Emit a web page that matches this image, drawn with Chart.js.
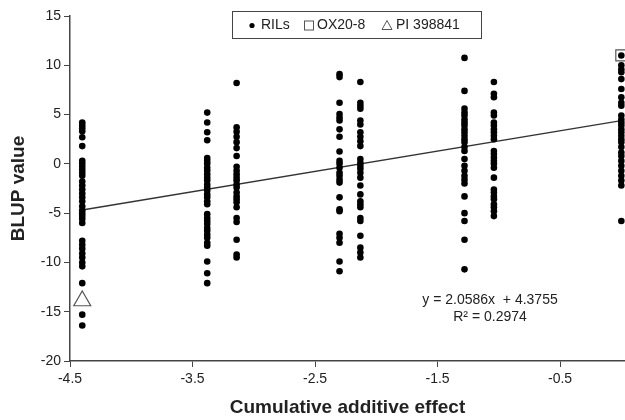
<!DOCTYPE html>
<html>
<head>
<meta charset="utf-8">
<script src="https://cdn.jsdelivr.net/npm/chart.js@4.4.1/dist/chart.umd.min.js"></script>
<style>
  html, body { margin: 0; padding: 0; background: #fff; }
</style>
</head>
<body>
<canvas id="blup" width="625" height="420"></canvas>
<script>
// cumulative additive effect of each genotype class (x position of each column)
const effects = [-4.4, -3.38, -3.14, -2.30, -2.13, -1.28, -1.04, 0];

// BLUP values of the RILs, one list per column
const blupA = [4.2, 3.9, 3.6, 3.3, 2.7, 1.8, 0.3, 0, -0.3, -0.6, -0.9, -1.2, -1.8, -2.2, -2.6, -3.0, -3.4, -3.8,
  -4.3, -4.7, -5.0, -5.3, -5.6, -6.0, -7.8, -8.2, -8.6, -9.1, -9.5, -10.0, -10.4, -12.1, -15.3, -16.4];
const blupB = [5.2, 4.2, 3.2, 2.4, 0.6, 0.3, 0, -0.4, -0.7, -1.05, -1.4, -1.7, -2.1, -2.4, -2.7, -3.1, -3.4, -3.8,
  -4.1, -5.1, -5.5, -5.8, -6.1, -6.5, -6.8, -7.2, -7.5, -8.0, -8.3, -9.9, -11.1, -12.1];
const blupC = [8.2, 3.7, 3.25, 2.75, 2.2, 1.6, 0.8, -0.3, -0.7, -1.05, -1.4, -1.7, -2.1, -2.4, -2.9, -3.3, -3.6,
  -3.9, -4.4, -5.5, -5.9, -7.7, -9.2, -9.5];
const blupD = [9.1, 8.8, 6.2, 5.05, 4.7, 4.4, 3.5, 2.75, 1.25, 0.3, 0, -0.4, -0.9, -1.2, -1.6, -1.9, -3.4, -4.6,
  -4.8, -7.1, -7.5, -8.0, -9.9, -10.9];
const blupE = [8.3, 6.2, 5.9, 5.6, 4.4, 4.0, 3.2, 2.75, 2.3, 1.8, 0.5, 0.1, -0.2, -0.5, -0.9, -1.4, -2.2, -3.1,
  -3.8, -4.1, -4.4, -5.5, -5.8, -7.3, -8.5, -9.0, -9.5];
const blupF = [10.75, 7.4, 5.6, 5.2, 4.9, 4.5, 4.2, 3.9, 3.5, 3.2, 2.85, 2.5, 2.2, 1.7, 1.3, 0.5, -0.2, -0.7,
  -1.2, -1.6, -2.0, -3.3, -5.0, -5.8, -7.7, -10.7];
const blupG = [8.3, 7.1, 6.75, 5.2, 4.9, 4.2, 3.9, 3.5, 3.2, 2.85, 2.5, 1.3, 1.0, 0.65, 0.3, 0, -0.4, -1.4,
  -2.6, -2.9, -3.3, -3.6, -4.1, -4.4, -4.8, -5.3];
const blupH = [11.0, 10.0, 9.6, 9.3, 8.6, 7.6, 6.75, 6.2, 5.9, 4.9, 4.5, 4.2, 3.9, 3.5, 3.2, 2.85, 2.5, 2.2,
  1.7, 1.15, 0.8, 0.3, -0.2, -0.7, -1.2, -1.7, -2.2, -5.8];
const rilColumns = [blupA, blupB, blupC, blupD, blupE, blupF, blupG, blupH];

// parents
const parentOX = { x: 0, y: 11.0 };
const parentPI = { x: -4.4, y: -13.9 };

// linear trend reported on the figure
const slope = 2.0586;
const intercept = 4.3755;
const rSquared = 0.2974;

const yTicks = [-20, -15, -10, -5, 0, 5, 10, 15];
const xTicks = [-4.5, -3.5, -2.5, -1.5, -0.5];

const rilPoints = [];
rilColumns.forEach((col, i) => col.forEach(v => rilPoints.push({ x: effects[i], y: v })));

const xLo = effects[0], xHi = effects[effects.length - 1];
const trendPoints = [
  { x: xLo, y: slope * xLo + intercept },
  { x: xHi, y: slope * xHi + intercept }
];

const FONT = "'Liberation Sans', Arial, sans-serif";
const INK = '#222';
const AXIS = '#444';

// Excel-style boxed legend sitting inside the plot, plus the equation text
const overlay = {
  id: 'overlay',
  afterDraw(chart) {
    const ctx = chart.ctx;
    ctx.save();
    ctx.fillStyle = '#fff';
    ctx.strokeStyle = '#444';
    ctx.lineWidth = 1;
    ctx.fillRect(232.5, 11.5, 249, 27);
    ctx.strokeRect(232.5, 11.5, 249, 27);

    ctx.font = '14px ' + FONT;
    ctx.textBaseline = 'middle';
    ctx.fillStyle = INK;
    const ly = 25.5;

    ctx.beginPath();
    ctx.arc(252, ly, 2.6, 0, Math.PI * 2);
    ctx.fillStyle = '#000';
    ctx.fill();
    ctx.fillStyle = INK;
    ctx.fillText(chart.data.datasets[0].label, 261, ly);

    ctx.strokeStyle = '#555';
    ctx.strokeRect(304.5, ly - 4.5, 9, 9);
    ctx.fillText(chart.data.datasets[1].label, 317, ly);

    ctx.beginPath();
    ctx.moveTo(387, ly - 5);
    ctx.lineTo(392, ly + 4);
    ctx.lineTo(382, ly + 4);
    ctx.closePath();
    ctx.stroke();
    ctx.fillText(chart.data.datasets[2].label, 396, ly);

    ctx.textAlign = 'center';
    ctx.font = '14px ' + FONT;
    ctx.fillText('y = ' + slope.toFixed(4) + 'x  + ' + intercept.toFixed(4), 490, 300);
    ctx.fillText('R\u00b2 = ' + rSquared.toFixed(4), 490, 317);
    ctx.restore();
  }
};

new Chart(document.getElementById('blup'), {
  type: 'scatter',
  data: {
    datasets: [
      {
        label: 'RILs',
        data: rilPoints,
        pointRadius: 3.3,
        pointHoverRadius: 3.3,
        backgroundColor: '#000',
        borderColor: '#000',
        borderWidth: 0,
        clip: false
      },
      {
        label: 'OX20-8',
        data: [parentOX],
        pointStyle: 'rect',
        pointRadius: 7.8,
        backgroundColor: 'rgba(0,0,0,0)',
        borderColor: '#555',
        borderWidth: 1.2,
        clip: false
      },
      {
        label: 'PI 398841',
        data: [parentPI],
        pointStyle: 'triangle',
        pointRadius: 9.8,
        backgroundColor: '#fff',
        borderColor: '#555',
        borderWidth: 1.2,
        clip: false
      },
      {
        type: 'line',
        label: 'trend',
        data: trendPoints,
        borderColor: '#333',
        borderWidth: 1.3,
        pointRadius: 0,
        fill: false
      }
    ]
  },
  options: {
    responsive: false,
    animation: false,
    layout: { autoPadding: false, padding: { top: 16, right: 0, left: 0, bottom: 0 } },
    plugins: {
      legend: { display: false },
      tooltip: { enabled: false }
    },
    scales: {
      x: {
        type: 'linear',
        min: -4.5,
        max: 0.03,
        afterBuildTicks: s => { s.ticks = xTicks.map(v => ({ value: v })); },
        afterFit: s => { s.height = 59; },
        grid: { drawOnChartArea: false, drawTicks: true, tickLength: 6, color: AXIS },
        border: { display: true, color: AXIS, width: 1.5 },
        ticks: { color: INK, padding: 4, maxRotation: 0, font: { family: FONT, size: 14 } },
        title: {
          display: true,
          text: 'Cumulative additive effect',
          color: INK,
          font: { family: FONT, size: 19, weight: 'bold' },
          padding: { top: 0, bottom: 1 }
        }
      },
      y: {
        min: -20,
        max: 15,
        afterBuildTicks: s => { s.ticks = yTicks.map(v => ({ value: v })); },
        afterFit: s => { s.width = 70; },
        grid: { drawOnChartArea: false, drawTicks: true, tickLength: 6, color: AXIS },
        border: { display: true, color: AXIS, width: 1.5 },
        ticks: { color: INK, padding: 3, font: { family: FONT, size: 14 } },
        title: {
          display: true,
          text: 'BLUP value',
          color: INK,
          font: { family: FONT, size: 19, weight: 'bold' },
          padding: { top: 7, bottom: 0 }
        }
      }
    }
  },
  plugins: [overlay]
});
</script>
</body>
</html>
